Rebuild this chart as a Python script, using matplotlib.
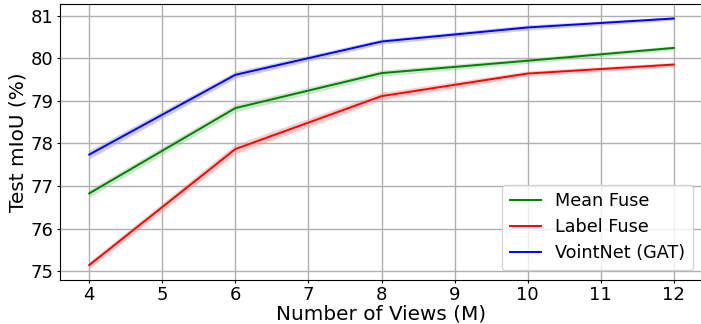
import matplotlib
import numpy as np

matplotlib.use("Agg")

from matplotlib import pyplot as plt

views = [4, 6, 8, 10, 12]

mean_fuse = [76.83, 78.83, 79.65, 79.94, 80.24]
mean_fuse_std = [0.09, 0.09, 0.07, 0.06, 0.05]

label_fuse = [75.15, 77.87, 79.11, 79.64, 79.85]
label_fuse_std = [0.08, 0.11, 0.09, 0.06, 0.05]

vointnet = [77.74, 79.61, 80.39, 80.72, 80.93]
vointnet_std = [0.10, 0.08, 0.06, 0.06, 0.04]

series = [
    ("Mean Fuse", mean_fuse, mean_fuse_std, "green"),
    ("Label Fuse", label_fuse, label_fuse_std, "red"),
    ("VointNet (GAT)", vointnet, vointnet_std, "blue"),
]


def main() -> None:
    figure = plt.figure(figsize=(7.01, 3.24), dpi=100)
    axis = figure.add_axes([60 / 701, 44 / 324, 643 / 701, 276 / 324])

    x = np.array(views, dtype=float)
    for name, values, std, color in series:
        values = np.array(values)
        std = np.array(std)
        axis.plot(x, values, color=color, linewidth=1.4, label=name)
        axis.fill_between(x, values - std, values + std, color=color, alpha=0.2, linewidth=0)

    axis.set_xlim(3.6, 12.4)
    axis.set_ylim(74.8, 81.27)
    axis.set_xticks(range(4, 13))
    axis.set_yticks(range(75, 82))
    axis.tick_params(labelsize=13, length=2.5, pad=2)
    axis.set_xlabel("Number of Views (M)", fontsize=14.4, labelpad=0)
    axis.set_ylabel("Test mIoU (%)", fontsize=14.4, labelpad=2)
    axis.grid(True, color="#b0b0b0", linewidth=1.0)
    axis.legend(loc="lower right", fontsize=12.7, borderpad=0.45, handlelength=1.8,
                labelspacing=0.45, borderaxespad=0.55)
    figure.savefig("out.png", dpi=100)
    plt.close(figure)


if __name__ == "__main__":
    main()
